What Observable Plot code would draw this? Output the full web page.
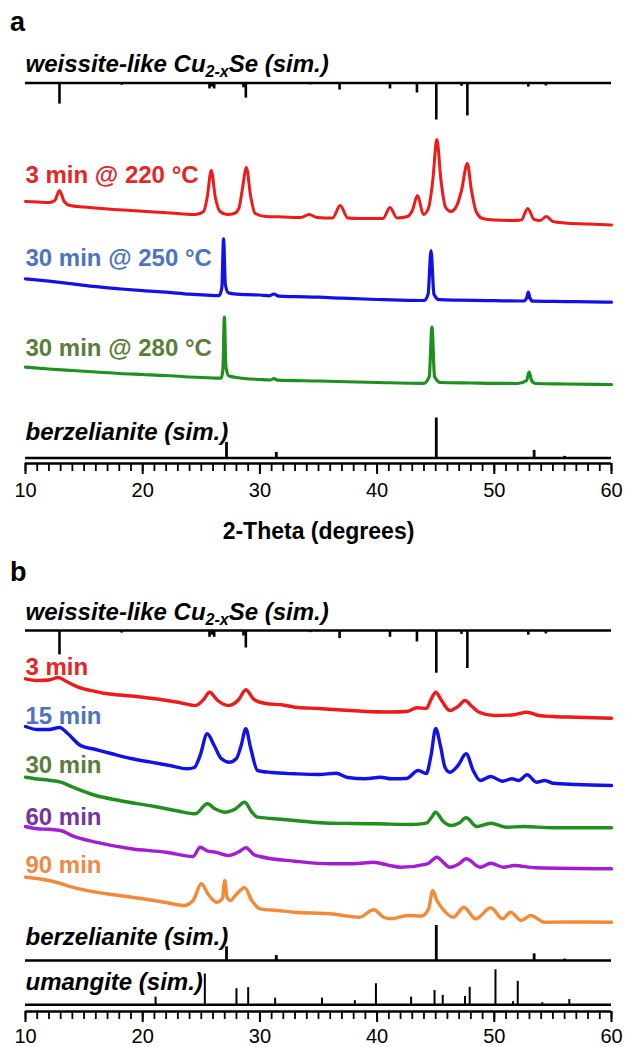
<!DOCTYPE html>
<html>
<head>
<meta charset="utf-8">
<script src="https://cdn.jsdelivr.net/npm/d3@7"></script>
<script src="https://cdn.jsdelivr.net/npm/@observablehq/plot@0.6"></script>
<style>
  html, body { margin: 0; padding: 0; background: #fff; }
  #fig { position: relative; width: 625px; height: 1047px; overflow: hidden; background: #fff; }
  #fig svg { display: block; overflow: visible; }
  .letter { position: absolute; left: 10px; z-index: 2; font: bold 27px "Liberation Sans", Arial, sans-serif; line-height: 1; }
</style>
</head>
<body>
<div id="fig">
  <div class="letter" style="top:9px">a</div>
  <div class="letter" style="top:559px">b</div>
</div>
<script>
const FONT = '"Liberation Sans", Arial, Helvetica, sans-serif';

// 2-theta axis
const xDomain = [10, 60];
const majorTicks = [10, 20, 30, 40, 50, 60];
const minorTicks = d3.range(10, 61);
const xTitle = "2-Theta (degrees)";

// Simulated reference patterns: [2-theta, relative intensity %]
const weissiteSim = [[12.9,57],[18.2,6],[25.7,16],[25.9,11],[26.1,16],[28.6,13],[28.8,41],[34.3,5],[36.8,19],[41.1,16],[43.4,27],[45.05,100],[47.2,9],[47.7,89],[52.9,11],[54.4,8]];
const berzelianiteSim = [[27.15,39],[31.4,14],[45.05,100],[53.4,19],[56.0,4]];
const umangiteSim = [[21.1,22],[25.3,88],[28.0,46],[29.0,49],[31.3,19],[35.3,19],[38.1,12],[39.9,60],[42.9,22],[44.9,41],[45.6,27],[47.5,24],[47.9,50],[50.1,100],[51.6,9],[52.0,67],[54.1,6],[56.4,15]];

// Panel a measured patterns: [2-theta, intensity a.u.]
const a3min220 = [[10,24],[11,23.5],[12,23],[12.5,25],[12.9,35],[13.3,24],[13.8,20],[15,18.5],[17,16.5],[19,15],[21,13.5],[23,12],[24.5,11],[25.2,14],[25.5,28],[25.85,55],[26.2,28],[26.6,14],[27.2,11],[27.8,12],[28.2,17],[28.5,36],[28.85,58],[29.2,30],[29.6,12],[30.5,9],[32,8.5],[33.5,8],[34.2,11],[34.9,8],[36.2,7.5],[36.85,20],[37.5,7.5],[38.5,7],[40.5,7],[41.1,18],[41.7,7.5],[42.6,9],[43.0,15],[43.45,30],[43.95,11],[44.4,18],[44.75,45],[45.1,86],[45.45,45],[45.85,18],[46.3,14],[46.8,20],[47.2,35],[47.7,62],[48.05,35],[48.45,14],[49,7],[50,5.5],[51.5,5],[52.3,5.5],[52.85,17],[53.4,6],[53.9,5],[54.45,9],[55,4],[56,2.5],[58,1.5],[60,0.5]];
const a30min250 = [[10,23.4],[12,21],[14,18.4],[16,15.5],[18,13.4],[20,11.5],[22,10],[24,8],[25.5,7],[26.5,6.5],[26.75,14],[26.9,63.4],[27.05,18],[27.3,9.5],[28,8],[29,7.5],[30,7.2],[30.8,6.4],[31.2,8.2],[31.6,6],[33,5.5],[35,5],[37,4],[40,2.7],[42,2],[44,1.7],[44.35,8],[44.6,51.7],[44.85,8],[45.3,2.5],[47,2],[50,1.5],[52.5,1.2],[52.75,4],[52.9,10],[53.05,4],[53.3,1],[55,0.8],[57,0.5],[60,0]];
const a30min280 = [[10,17.3],[12,15.5],[14,14],[16,12.5],[18,11],[20,10],[22,9],[24,7.5],[26,6.5],[26.7,6.3],[26.85,16],[26.97,67.3],[27.1,18],[27.35,8.5],[28,7],[30,5],[30.9,4.5],[31.2,6],[31.5,4.3],[35,3.5],[40,2],[44,1.2],[44.45,8],[44.68,57.3],[44.9,8],[45.4,2],[48,1.5],[52,1],[52.75,4],[52.97,12.3],[53.2,3.5],[53.5,1],[56,0.5],[60,0]];

// Panel b measured patterns (reaction time series)
const b3min = [[10,39.7],[11,38],[12,38.5],[12.8,41],[13.5,37],[14.5,31.3],[16,27],[17,24.7],[18.5,23],[20,21.3],[21.5,19],[23,16.3],[24.5,13],[25.2,19],[25.7,26.3],[26.4,18],[27.3,13],[28.2,19],[28.8,28.7],[29.5,19],[30.5,15],[32,13.5],[33,11.3],[35,10],[37,8.5],[39,7],[41,6.5],[42.5,7],[43.4,10.7],[44.2,10],[44.6,19],[45.0,26.3],[45.5,18],[46.2,8],[46.9,12],[47.5,18],[48.1,12],[48.7,6.3],[50,3],[51.5,3.5],[52.8,6.3],[53.8,3],[55,2],[57,1.3],[60,0.3]];
const b15min = [[10,59],[11,56],[12,56],[12.9,58],[13.6,52],[14.7,40],[16,36],[17.3,32],[19,27],[20.7,23.3],[22.3,20],[23.8,16.7],[24.4,18],[24.9,30],[25.5,51.7],[26.1,40],[26.7,27],[27.4,23.3],[28.0,27],[28.4,40],[28.8,56.7],[29.2,38],[29.8,15],[31,13],[33,11.7],[35,11],[36.5,12.3],[37.5,8],[39,6.7],[40.3,8.3],[41.2,6.7],[42.5,7],[43.5,15],[44.2,12],[44.6,30],[45.0,57],[45.4,40],[45.8,18],[46.2,13.3],[46.9,20],[47.6,31.7],[48.2,15],[48.8,5],[49.7,9],[50.7,4.3],[51.5,6.7],[52.1,5],[52.8,10.7],[53.6,3.3],[54.3,5],[55,2.3],[57,1],[60,0]];
const b30min = [[10,50.8],[11,49],[12,47.8],[13,45.8],[14,41],[16,32.5],[18,27.5],[21,21.5],[23,17],[24.5,14.2],[25.5,24.2],[26.2,19],[27,15.8],[27.9,19],[28.7,25.8],[29.3,16],[29.8,10.8],[31,9.5],[33,7.5],[36,4.8],[38,4.5],[40,4.2],[43,3.5],[44.2,4.8],[44.6,10],[45.0,15.8],[45.6,7],[46.3,2.5],[47.0,5],[47.6,10.2],[48.5,1.5],[49.7,4.8],[51,0.8],[52.5,1.5],[55,0.2],[60,0.2]];
const b60min = [[10,42.3],[11,40],[12,39.5],[13,38.3],[14,33],[16,26.6],[19,20],[22,16.6],[24.3,12.3],[24.9,21.6],[25.5,18],[26.2,16.6],[27.3,13.3],[28.2,17],[28.8,21],[29.5,14],[30,12.3],[33,7.6],[36,5],[38,5],[39.7,6.5],[41,3.5],[42,1.6],[44.3,5],[45.1,11.6],[45.6,7],[46.2,1.6],[47.0,5],[47.6,10],[48.8,1.6],[49.7,5.6],[50.8,1.6],[51.7,3.3],[53.5,1],[60,0]];
const b90min = [[10,45.3],[11,44],[12,42],[13,39],[14,35.3],[16,30.3],[18,27],[20,23.7],[22,20],[23.5,17],[24.3,22],[25.0,38.7],[25.6,28],[26.3,20.3],[26.8,24],[27.0,42],[27.2,25],[27.5,22],[27.9,27],[28.7,34.7],[29.3,22],[30,13.7],[31.5,12],[33,10.3],[36,8.7],[38.5,5.3],[39.7,12.7],[40.6,5],[41.2,3.7],[42.6,7],[43.8,6.5],[44.4,14],[44.75,32],[45.1,22],[45.5,15],[46.5,5.3],[47.4,15.3],[48.4,3.7],[49.7,14.7],[50.7,3.7],[51.4,10.3],[52.3,2],[53.1,7],[54.3,0.3],[56,0.5],[60,0.3]];

// Labels
const labelsA = ["weissite-like Cu2-xSe (sim.)", "3 min @ 220 °C", "30 min @ 250 °C", "30 min @ 280 °C", "berzelianite (sim.)"];
const labelsB = ["weissite-like Cu2-xSe (sim.)", "3 min", "15 min", "30 min", "60 min", "90 min", "berzelianite (sim.)", "umangite (sim.)"];

// Colours
const ink = "#000";
const trace = {red: "#ee1b1b", blue: "#1212e8", green: "#1f8f1f", purple: "#a21ed2", orange: "#f28a3a"};
const label = {red: "#e32626", blue: "#4e74bf", green: "#5b7d3b", purple: "#7336a0", orange: "#ef8a44"};

function simMarks(peaks, base, px, dir, sw) {
  return [
    Plot.ruleY([base], {stroke: ink, strokeWidth: 2.6}),
    Plot.ruleX(peaks, {x: d => d[0], y1: base, y2: d => base + dir * d[1] * px, stroke: ink, strokeWidth: sw})
  ];
}
function traceMark(data, base, color, sw = 3) {
  return Plot.line(data, {x: d => d[0], y: d => base + d[1], stroke: color, strokeWidth: sw, curve: "monotone-x", strokeLinejoin: "round", strokeLinecap: "round"});
}
function labelMark(text, y, color, italic) {
  return Plot.text([text], {x: 10, y, text: d => d, textAnchor: "start", lineAnchor: "middle", fill: color, fontSize: 24, fontWeight: "bold", fontStyle: italic ? "italic" : "normal"});
}
function axisMarks(pad) {
  return [
    Plot.ruleX(minorTicks, {x: d => d, y1: 0, y2: -8, stroke: ink, strokeWidth: 1.8}),
    Plot.axisX({ticks: majorTicks, tickSize: 11, tickPadding: pad, fontSize: 20, strokeWidth: 2, label: null, tickFormat: d => String(d)}),
    Plot.ruleY([0], {stroke: ink, strokeWidth: 2.6})
  ];
}
function subscript(svg) {
  const ns = "http://www.w3.org/2000/svg";
  svg.querySelectorAll("text").forEach(t => {
    const s = t.textContent;
    const i = s.indexOf("Cu2-x");
    if (i < 0) return;
    t.textContent = "";
    const a = document.createElementNS(ns, "tspan"); a.textContent = s.slice(0, i + 2);
    const b = document.createElementNS(ns, "tspan"); b.textContent = "2-x"; b.setAttribute("font-size", "16"); b.setAttribute("dy", "5");
    const c = document.createElementNS(ns, "tspan"); c.textContent = s.slice(i + 5); c.setAttribute("dy", "-5");
    t.append(a, b, c);
  });
  return svg;
}

const common = {width: 625, marginLeft: 25, marginRight: 14, marginTop: 0, x: {domain: xDomain}, style: {fontFamily: FONT, background: "transparent", overflow: "visible", color: "#000"}};

const panelA = Plot.plot({
  ...common,
  height: 560, marginBottom: 97,
  y: {domain: [0, 463], axis: null},
  marks: [
    ...simMarks(weissiteSim, 380.5, 0.37, -1, 2.6),
    traceMark(a3min220, 238, trace.red),
    traceMark(a30min250, 161.3, trace.blue, 3.2),
    traceMark(a30min280, 79, trace.green, 3.2),
    ...simMarks(berzelianiteSim, 5.5, 0.40, 1, 2.8),
    labelMark(labelsA[0], 399, ink, true),
    labelMark(labelsA[1], 288, label.red),
    labelMark(labelsA[2], 204.7, label.blue),
    labelMark(labelsA[3], 114.7, label.green),
    labelMark(labelsA[4], 31.3, ink, true),
    ...axisMarks(8),
    Plot.text([xTitle], {frameAnchor: "bottom", dy: 68, lineAnchor: "middle", fontSize: 23, fontWeight: "bold", fill: ink})
  ]
});

const panelB = Plot.plot({
  ...common,
  height: 487, marginBottom: 36,
  y: {domain: [0, 451], axis: null},
  marks: [
    ...simMarks(weissiteSim, 381, 0.427, -1, 2.6),
    traceMark(b3min, 293, trace.red, 3.4),
    traceMark(b15min, 226, trace.blue, 3.4),
    traceMark(b30min, 183.5, trace.green, 3.4),
    traceMark(b60min, 142.7, trace.purple, 3.4),
    traceMark(b90min, 89, trace.orange, 3.4),
    ...simMarks(berzelianiteSim, 51, 0.35, 1, 2.8),
    ...simMarks(umangiteSim, 6.7, 0.35, 1, 2),
    labelMark(labelsB[0], 399.3, ink, true),
    labelMark(labelsB[1], 344, label.red),
    labelMark(labelsB[2], 295, label.blue),
    labelMark(labelsB[3], 246, label.green),
    labelMark(labelsB[4], 194.3, label.purple),
    labelMark(labelsB[5], 146, label.orange),
    labelMark(labelsB[6], 74.3, ink, true),
    labelMark(labelsB[7], 29.3, ink, true),
    ...axisMarks(6)
  ]
});

const fig = document.getElementById("fig");
fig.append(subscript(panelA), subscript(panelB));
</script>
</body>
</html>
